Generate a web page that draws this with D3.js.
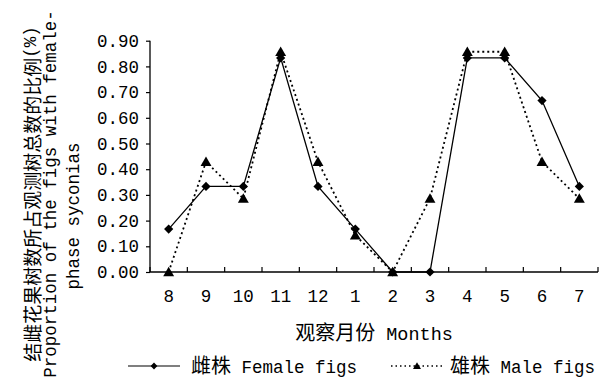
<!DOCTYPE html>
<html>
<head>
<meta charset="utf-8">
<script src="https://cdn.jsdelivr.net/npm/d3@7"></script>
<style>
  html, body { margin: 0; padding: 0; background: #fff; }
  svg { display: block; }
  .lat { font-family: "Liberation Mono", "DejaVu Sans Mono", monospace; }
  .cjk { font-family: "Noto Sans CJK SC", sans-serif; }
</style>
</head>
<body>
<svg id="chart" width="614" height="384"></svg>
<script>
// ---- data ----
const months = ["8", "9", "10", "11", "12", "1", "2", "3", "4", "5", "6", "7"];
const female = [0.167, 0.333, 0.333, 0.833, 0.333, 0.167, 0, 0, 0.833, 0.833, 0.667, 0.333];
const male   = [0, 0.429, 0.286, 0.857, 0.429, 0.143, 0, 0.286, 0.857, 0.857, 0.429, 0.286];
const yTicks = [0, 0.1, 0.2, 0.3, 0.4, 0.5, 0.6, 0.7, 0.8, 0.9];
const femaleName = ["雌株", " Female figs"];
const maleName = ["雄株", " Male figs"];
const xTitle = ["观察月份", " Months"];
const yTitle1 = ["结雌花果树数所占观测树总数的比例", "(%)"];
const yTitle2 = "Proportion of the figs with female-";
const yTitle3 = "phase syconias";

// ---- layout ----
const svg = d3.select("#chart");
const L = 150, R = 598, T = 40.7, B = 272;
const LAT = 17.5, CJK = 19;

const x = d3.scaleBand().domain(months).range([L, R]);
const y = d3.scaleLinear().domain([0, 0.9]).range([B, T]);
const cx = m => x(m) + x.bandwidth() / 2;

svg.append("rect").attr("width", 614).attr("height", 384).attr("fill", "#fff");

// y axis
const yAxis = d3.axisLeft(y).tickValues(yTicks).tickSize(4).tickPadding(7)
  .tickFormat(d3.format(".2f"));
const gy = svg.append("g").attr("transform", `translate(${L},0)`).call(yAxis);
gy.select(".domain").remove();
gy.selectAll(".tick line").attr("stroke", "#000").attr("stroke-width", 1.2);
gy.selectAll(".tick text").attr("class", "lat").attr("font-size", LAT).attr("fill", "#000");
svg.append("line").attr("x1", L).attr("x2", L).attr("y1", y(0.9)).attr("y2", y(0))
  .attr("stroke", "#000").attr("stroke-width", 1.3);

// x axis
const xAxis = d3.axisBottom(x).tickSize(0).tickPadding(18);
const gx = svg.append("g").attr("transform", `translate(0,${B})`).call(xAxis);
gx.select(".domain").remove();
gx.selectAll(".tick text").attr("class", "lat").attr("font-size", LAT).attr("fill", "#000");
svg.append("line").attr("x1", L).attr("x2", R).attr("y1", B).attr("y2", B)
  .attr("stroke", "#000").attr("stroke-width", 1.3);
const bounds = months.map(m => x(m)).concat([x.range()[1]]);
svg.append("g").selectAll("line").data(bounds).join("line")
  .attr("x1", d => d).attr("x2", d => d).attr("y1", B).attr("y2", B - 5)
  .attr("stroke", "#000").attr("stroke-width", 1.2);

// lines
const lineF = d3.line().x((d, i) => cx(months[i])).y(d => y(d));
svg.append("path").datum(male).attr("d", lineF).attr("fill", "none")
  .attr("stroke", "#000").attr("stroke-width", 1.8).attr("stroke-dasharray", "2,3");
svg.append("path").datum(female).attr("d", lineF).attr("fill", "none")
  .attr("stroke", "#000").attr("stroke-width", 1.3);

// markers
const diamond = s => `M0,${-s}L${s},0L0,${s}L${-s},0Z`;
const triangle = s => `M0,${-s}L${s * 1.05},${s * 0.8}L${-s * 1.05},${s * 0.8}Z`;
svg.append("g").selectAll("path").data(male).join("path")
  .attr("d", triangle(5.2))
  .attr("transform", (d, i) => `translate(${cx(months[i])},${y(d)})`)
  .attr("fill", "#000");
svg.append("g").selectAll("path").data(female).join("path")
  .attr("d", diamond(4.6))
  .attr("transform", (d, i) => `translate(${cx(months[i])},${y(d)})`)
  .attr("fill", "#000");

// x title
const xt = svg.append("text").attr("x", (L + R) / 2).attr("y", 340)
  .attr("text-anchor", "middle").attr("fill", "#000");
xt.append("tspan").attr("class", "cjk").attr("font-size", CJK + 1).text(xTitle[0]);
xt.append("tspan").attr("class", "lat").attr("font-size", LAT + 1).text(xTitle[1]);

// y title (rotated, three columns)
function rotText(cxp, cyp) {
  return svg.append("text").attr("transform", `translate(${cxp},${cyp}) rotate(-90)`)
    .attr("text-anchor", "middle").attr("dominant-baseline", "central").attr("fill", "#000");
}
const y1 = rotText(31, 194);
y1.append("tspan").attr("class", "cjk").attr("font-size", CJK).text(yTitle1[0]);
y1.append("tspan").attr("class", "lat").attr("font-size", LAT).text(yTitle1[1]);
rotText(51, 194).attr("class", "lat").attr("font-size", LAT).text(yTitle2);
rotText(74, 216).attr("class", "lat").attr("font-size", LAT).text(yTitle3);

// legend
const LY = 366;
const lg = svg.append("g");
lg.append("line").attr("x1", 128).attr("x2", 180).attr("y1", LY).attr("y2", LY)
  .attr("stroke", "#000").attr("stroke-width", 1.2);
lg.append("path").attr("d", diamond(3.4)).attr("transform", `translate(154,${LY})`).attr("fill", "#000");
const t1 = lg.append("text").attr("x", 191).attr("y", LY + 7).attr("fill", "#000");
t1.append("tspan").attr("class", "cjk").attr("font-size", CJK + 1).text(femaleName[0]);
t1.append("tspan").attr("class", "lat").attr("font-size", LAT).text(femaleName[1]);
lg.append("line").attr("x1", 391).attr("x2", 443).attr("y1", LY).attr("y2", LY)
  .attr("stroke", "#000").attr("stroke-width", 1.5).attr("stroke-dasharray", "1.5,3");
lg.append("path").attr("d", triangle(3.8)).attr("transform", `translate(417,${LY})`).attr("fill", "#000");
const t2 = lg.append("text").attr("x", 450).attr("y", LY + 7).attr("fill", "#000");
t2.append("tspan").attr("class", "cjk").attr("font-size", CJK + 1).text(maleName[0]);
t2.append("tspan").attr("class", "lat").attr("font-size", LAT).text(maleName[1]);
</script>
</body>
</html>
